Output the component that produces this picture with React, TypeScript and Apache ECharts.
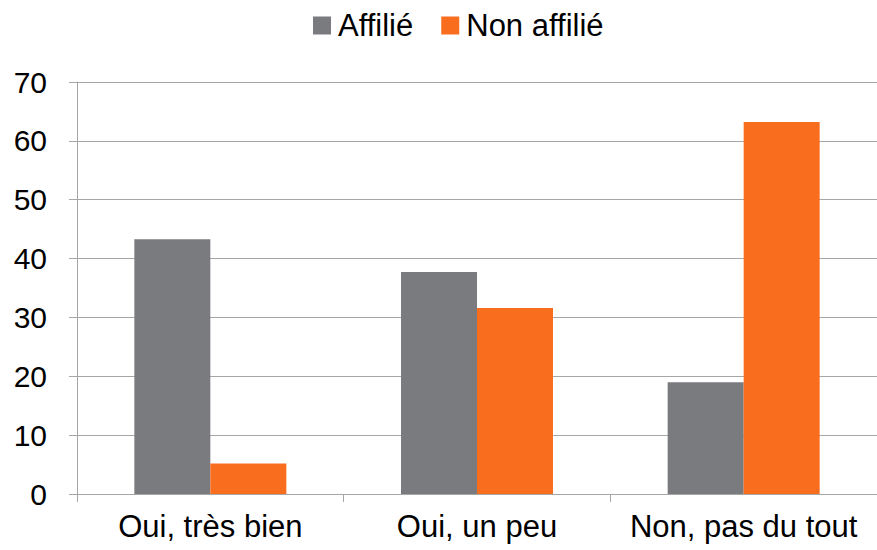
import React, { useEffect, useRef } from "react";
import * as echarts from "echarts";

const categories = ["Oui, très bien", "Oui, un peu", "Non, pas du tout"];
const affilie = [43.3, 37.7, 19.0];
const nonAffilie = [5.2, 31.6, 63.2];
const seriesNames = ["Affilié", "Non affilié"];

export default function App() {
  const ref = useRef<HTMLDivElement>(null);
  useEffect(() => {
    const chart = echarts.init(ref.current!, null, { renderer: "svg" });
    const font = "Liberation Sans, Arial, sans-serif";
    chart.setOption({
      animation: false,
      textStyle: { fontFamily: font },
      legend: {
        data: seriesNames,
        left: 308,
        top: 5,
        itemWidth: 18,
        itemHeight: 18,
        itemGap: 28,
        icon: "rect",
        textStyle: { fontSize: 31, color: "#000", fontFamily: font, padding: [0, 0, 0, 2] },
      },
      grid: { left: 77, top: 82, width: 806, height: 412, containLabel: false },
      xAxis: {
        type: "category",
        data: categories,
        axisLine: { lineStyle: { color: "#a6a6a6", width: 1 } },
        axisTick: { show: true, length: 8, lineStyle: { color: "#a6a6a6" } },
        axisLabel: { fontSize: 31, color: "#000", margin: 17, interval: 0, fontFamily: font },
      },
      yAxis: {
        type: "value",
        min: 0,
        max: 70,
        interval: 10,
        axisLine: { show: true, lineStyle: { color: "#a6a6a6", width: 1 } },
        axisTick: { show: true, length: 8, lineStyle: { color: "#a6a6a6" } },
        axisLabel: { fontSize: 30, color: "#000", margin: 30, fontFamily: font },
        splitLine: { show: true, lineStyle: { color: "#a6a6a6", width: 1 } },
      },
      series: [
        {
          name: seriesNames[0],
          type: "bar",
          data: affilie,
          barWidth: 76,
          barGap: "0%",
          itemStyle: { color: "#7a7b7f" },
        },
        {
          name: seriesNames[1],
          type: "bar",
          data: nonAffilie,
          barWidth: 76,
          barGap: "0%",
          itemStyle: { color: "#f96d1e" },
        },
      ],
    });
    return () => chart.dispose();
  }, []);
  return <div ref={ref} style={{ width: 877, height: 550, position: "absolute", left: 0, top: 0 }} />;
}
